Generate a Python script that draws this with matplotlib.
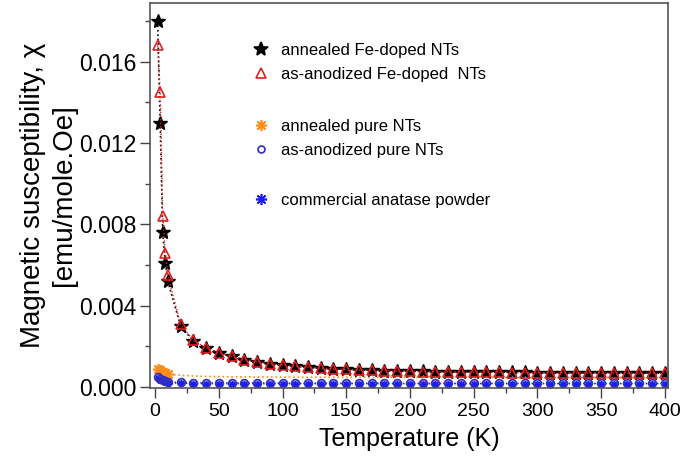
import matplotlib
matplotlib.use("Agg")
import matplotlib.pyplot as plt
from matplotlib.legend import Legend
from matplotlib.lines import Line2D
from matplotlib.ticker import MultipleLocator

plt.rcParams['font.family'] = ['Liberation Sans', 'DejaVu Sans']

# temperature grid (K)
temps = [2, 4, 6, 8, 10, 20, 30, 40, 50, 60, 70, 80, 90, 100, 110, 120, 130,
         140, 150, 160, 170, 180, 190, 200, 210, 220, 230, 240, 250, 260, 270,
         280, 290, 300, 310, 320, 330, 340, 350, 360, 370, 380, 390, 400]

# annealed Fe-doped NTs
chi_fe_annealed = [0.0180, 0.0130, 0.0076, 0.0061, 0.0052, 0.00300, 0.00225,
                   0.00190, 0.00168, 0.00150, 0.00134, 0.00122, 0.00114,
                   0.00107, 0.00101, 0.00096, 0.00092, 0.00089, 0.00086,
                   0.00084, 0.00082, 0.00080, 0.00079, 0.00078, 0.00077,
                   0.00076, 0.00075, 0.00074, 0.00074, 0.00073, 0.00073,
                   0.00072, 0.00072, 0.00071, 0.00071, 0.00070, 0.00070,
                   0.00070, 0.00069, 0.00069, 0.00069, 0.00068, 0.00068,
                   0.00068]

# as-anodized Fe-doped NTs
chi_fe_anodized = [0.0168, 0.0145, 0.0084, 0.0066, 0.0055, 0.00308, 0.00230,
                   0.00192, 0.00169, 0.00151, 0.00135, 0.00123, 0.00115,
                   0.00108, 0.00102, 0.00097, 0.00093, 0.00089, 0.00086,
                   0.00084, 0.00082, 0.00080, 0.00078, 0.00077, 0.00076,
                   0.00075, 0.00074, 0.00073, 0.00073, 0.00072, 0.00072,
                   0.00071, 0.00071, 0.00070, 0.00070, 0.00069, 0.00069,
                   0.00069, 0.00068, 0.00068, 0.00068, 0.00067, 0.00067,
                   0.00067]

# annealed pure NTs
chi_pure_annealed = [0.00090, 0.00082, 0.00074, 0.00068, 0.00064, 0.00058,
                     0.00054, 0.00052, 0.00051, 0.00050, 0.00050, 0.00049,
                     0.00049, 0.00049, 0.00048, 0.00048, 0.00048, 0.00048,
                     0.00048, 0.00048, 0.00047, 0.00047, 0.00047, 0.00047,
                     0.00047, 0.00047, 0.00047, 0.00047, 0.00047, 0.00047,
                     0.00047, 0.00047, 0.00047, 0.00047, 0.00047, 0.00047,
                     0.00047, 0.00047, 0.00047, 0.00047, 0.00047, 0.00047,
                     0.00047, 0.00047]

# as-anodized pure NTs
chi_pure_anodized = [0.00050, 0.00040, 0.00032, 0.00028, 0.00025, 0.00023,
                     0.00022, 0.00021, 0.00021, 0.00020, 0.00020, 0.00020,
                     0.00020, 0.00019, 0.00019, 0.00019, 0.00019, 0.00019,
                     0.00019, 0.00019, 0.00019, 0.00019, 0.00018, 0.00018,
                     0.00018, 0.00018, 0.00018, 0.00018, 0.00018, 0.00018,
                     0.00018, 0.00018, 0.00018, 0.00018, 0.00018, 0.00018,
                     0.00018, 0.00018, 0.00018, 0.00018, 0.00018, 0.00018,
                     0.00018, 0.00018]

# commercial anatase powder
chi_anatase = [0.00045, 0.00036, 0.00029, 0.00024, 0.00021, 0.00018,
               0.00017, 0.00016, 0.00016, 0.00016, 0.00016, 0.00016,
               0.00016, 0.00016, 0.00016, 0.00016, 0.00016, 0.00016,
               0.00016, 0.00016, 0.00016, 0.00016, 0.00016, 0.00016,
               0.00016, 0.00016, 0.00016, 0.00016, 0.00016, 0.00016,
               0.00016, 0.00016, 0.00016, 0.00016, 0.00016, 0.00016,
               0.00016, 0.00016, 0.00016, 0.00016, 0.00016, 0.00016,
               0.00016, 0.00016]

labels = ["annealed Fe-doped NTs", "as-anodized Fe-doped  NTs",
          "annealed pure NTs", "as-anodized pure NTs",
          "commercial anatase powder"]

asterisk = (8, 2, 0)
c_star, c_tri, c_orange, c_circ, c_blue = ('black', '#dd2020', '#ff8c1a',
                                           '#3030c0', '#1a1aff')

fig = plt.figure(figsize=(6.83, 4.59), dpi=100)
ax = fig.add_axes([0.2196, 0.1547, 0.7584, 0.8388])

# draw order: pure samples first so the Fe-doped curves sit on top
ax.plot(temps, chi_anatase, ls=':', lw=1, color=c_blue, marker=asterisk,
        ms=5, mew=1.1)
# orange symbols only stand out at the low-temperature end
ax.plot(temps, chi_pure_annealed, ls=':', lw=1.2, color=c_orange,
        marker=asterisk, ms=8, mew=1.2, markevery=slice(0, 5))
ax.plot(temps, chi_pure_anodized, ls=':', lw=1, color=c_circ, marker='o',
        ms=5.5, mfc='none', mew=1.3)
ax.plot(temps, chi_fe_annealed, ls=':', lw=1.2, color=c_star, marker='*',
        ms=10)
ax.plot(temps, chi_fe_anodized, ls=':', lw=1, color=c_tri, marker='^',
        ms=7, mfc='none', mew=1.2)

ax.set_xlim(-4, 402.5)
ax.set_ylim(-0.00005, 0.01889)
ax.xaxis.set_major_locator(MultipleLocator(50))
ax.xaxis.set_minor_locator(MultipleLocator(25))
ax.yaxis.set_major_locator(MultipleLocator(0.004))
ax.yaxis.set_minor_locator(MultipleLocator(0.002))
ax.yaxis.set_major_formatter(plt.FormatStrFormatter('%.3f'))

ax.tick_params(which='both', direction='out', top=False, right=False,
               color='#444444')
ax.tick_params(which='major', length=7, width=1)
ax.tick_params(which='minor', length=3.5, width=1)
ax.tick_params(axis='x', labelsize=14)
ax.tick_params(axis='y', labelsize=16.5, pad=3)
for sp in ax.spines.values():
    sp.set_color('#555555')
    sp.set_linewidth(1.2)

ax.set_xlabel("Temperature (K)", fontsize=18, labelpad=5)
ax.set_ylabel("Magnetic susceptibility, χ\n[emu/mole.Oe]", fontsize=20,
              linespacing=1.26)
ax.yaxis.set_label_coords(-0.141, 0.5)


# legend: markers only, in three groups
def marker_handle(color, marker, ms, hollow=False):
    return Line2D([], [], ls='none', color=color, marker=marker, ms=ms,
                  mfc='none' if hollow else color, mew=1.2)


groups = [
    ([marker_handle(c_star, '*', 10), marker_handle(c_tri, '^', 7, True)],
     labels[0:2], 0.896),
    ([marker_handle(c_orange, asterisk, 8), marker_handle(c_circ, 'o', 5, True)],
     labels[2:4], 0.699),
    ([marker_handle(c_blue, asterisk, 8)], labels[4:5], 0.506),
]
for hs, ls_, ytop in groups:
    leg = Legend(ax, hs, ls_, loc='upper left', bbox_to_anchor=(0.199, ytop),
                 frameon=False, fontsize=12, handlelength=1,
                 handletextpad=0.7, labelspacing=0.55, borderpad=0,
                 borderaxespad=0)
    ax.add_artist(leg)

fig.savefig("out.png", dpi=100)
